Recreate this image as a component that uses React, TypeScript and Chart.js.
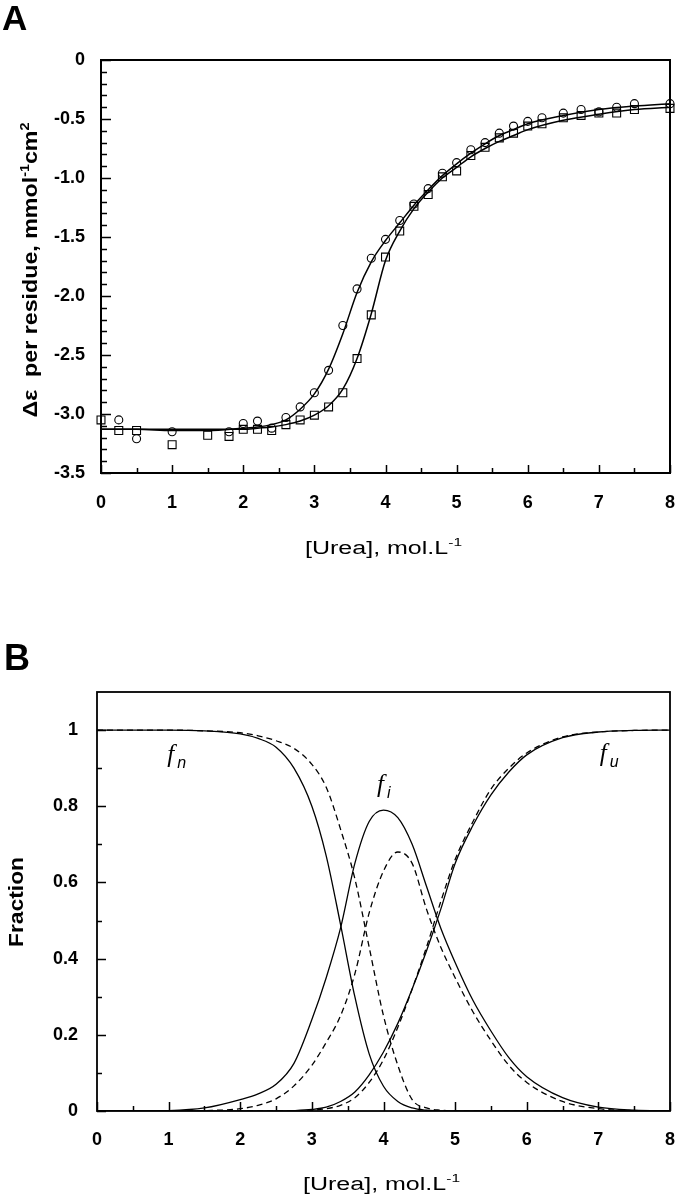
import React, { useEffect, useRef } from "react";
import { Chart, registerables } from "chart.js";

Chart.register(...registerables);

// ---------------- Panel A: CD signal vs urea ----------------
const circleUrea = [0.25, 0.5, 1.0, 1.8, 2.0, 2.2, 2.4, 2.6, 2.8, 3.0, 3.2, 3.4, 3.6, 3.8, 4.0, 4.2, 4.4, 4.6, 4.8, 5.0, 5.2, 5.4, 5.6, 5.8, 6.0, 6.2, 6.5, 6.75, 7.0, 7.25, 7.5, 8.0];
const circleDeltaEps = [-3.05, -3.21, -3.15, -3.15, -3.08, -3.06, -3.12, -3.03, -2.94, -2.82, -2.63, -2.25, -1.94, -1.68, -1.52, -1.36, -1.22, -1.09, -0.96, -0.87, -0.76, -0.70, -0.62, -0.56, -0.52, -0.49, -0.45, -0.42, -0.44, -0.40, -0.37, -0.37];

const squareUrea = [0, 0.25, 0.5, 1.0, 1.5, 1.8, 2.0, 2.2, 2.4, 2.6, 2.8, 3.0, 3.2, 3.4, 3.6, 3.8, 4.0, 4.2, 4.4, 4.6, 4.8, 5.0, 5.2, 5.4, 5.6, 5.8, 6.0, 6.2, 6.5, 6.75, 7.0, 7.25, 7.5, 8.0];
const squareDeltaEps = [-3.05, -3.14, -3.14, -3.26, -3.18, -3.19, -3.13, -3.13, -3.14, -3.09, -3.05, -3.01, -2.94, -2.82, -2.53, -2.16, -1.67, -1.45, -1.24, -1.14, -0.99, -0.94, -0.81, -0.74, -0.66, -0.62, -0.56, -0.54, -0.49, -0.47, -0.45, -0.45, -0.42, -0.41];

const fitUrea = [0, 0.5, 1, 1.5, 2, 2.2, 2.4, 2.6, 2.8, 3.0, 3.2, 3.4, 3.6, 3.8, 4.0, 4.2, 4.4, 4.6, 4.8, 5.0, 5.2, 5.4, 5.6, 5.8, 6.0, 6.5, 7.0, 7.5, 8.0];
const fitCircle = [-3.13, -3.13, -3.14, -3.14, -3.12, -3.11, -3.09, -3.05, -2.96, -2.83, -2.62, -2.32, -1.97, -1.71, -1.53, -1.38, -1.23, -1.10, -0.98, -0.88, -0.79, -0.71, -0.64, -0.59, -0.54, -0.47, -0.42, -0.39, -0.37];
const fitSquare = [-3.13, -3.13, -3.13, -3.13, -3.13, -3.12, -3.11, -3.09, -3.06, -3.01, -2.93, -2.79, -2.53, -2.15, -1.70, -1.45, -1.26, -1.12, -1.00, -0.91, -0.82, -0.75, -0.69, -0.64, -0.59, -0.51, -0.46, -0.42, -0.40];

// ---------------- Panel B: species fractions ----------------
const fracUrea = [0, 0.5, 1.0, 1.5, 2.0, 2.25, 2.5, 2.75, 3.0, 3.2, 3.4, 3.6, 3.8, 4.0, 4.2, 4.4, 4.6, 4.8, 5.0, 5.25, 5.5, 5.75, 6.0, 6.5, 7.0, 7.5, 8.0];
const fnSolid = [1, 1, 1, 0.998, 0.99, 0.978, 0.955, 0.90, 0.80, 0.67, 0.49, 0.30, 0.15, 0.065, 0.025, 0.008, 0.002, 0, 0, 0, 0, 0, 0, 0, 0, 0, 0];
const fnDashed = [1, 1, 1, 0.998, 0.993, 0.985, 0.972, 0.952, 0.91, 0.85, 0.74, 0.61, 0.43, 0.25, 0.12, 0.03, 0.008, 0.002, 0, 0, 0, 0, 0, 0, 0, 0, 0];
const fiSolid = [0, 0, 0.001, 0.008, 0.03, 0.045, 0.07, 0.125, 0.24, 0.35, 0.48, 0.65, 0.76, 0.79, 0.77, 0.70, 0.59, 0.48, 0.39, 0.29, 0.21, 0.14, 0.09, 0.035, 0.01, 0.002, 0];
const fiDashed = [0, 0, 0, 0.001, 0.006, 0.015, 0.032, 0.066, 0.12, 0.18, 0.25, 0.36, 0.52, 0.63, 0.68, 0.65, 0.53, 0.43, 0.35, 0.26, 0.185, 0.12, 0.075, 0.025, 0.006, 0.001, 0];
const fuSolid = [0, 0, 0, 0, 0, 0, 0, 0.001, 0.004, 0.01, 0.025, 0.05, 0.095, 0.155, 0.23, 0.32, 0.42, 0.53, 0.65, 0.75, 0.83, 0.89, 0.935, 0.98, 0.995, 0.999, 1.0];
const fuDashed = [0, 0, 0, 0, 0, 0, 0, 0, 0.002, 0.006, 0.015, 0.035, 0.075, 0.135, 0.22, 0.32, 0.43, 0.55, 0.66, 0.76, 0.845, 0.90, 0.94, 0.982, 0.995, 0.999, 1.0];

// ---------------- Axis ticks & text ----------------
const xMajorTicks = [0, 1, 2, 3, 4, 5, 6, 7, 8];
const xMinorTicks = [0.5, 1.5, 2.5, 3.5, 4.5, 5.5, 6.5, 7.5];
const yMajorTicksA = [0, -0.5, -1.0, -1.5, -2.0, -2.5, -3.0, -3.5];
const yMinorTicksA = [-0.1, -0.2, -0.3, -0.4, -0.6, -0.7, -0.8, -0.9, -1.1, -1.2, -1.3, -1.4, -1.6, -1.7, -1.8, -1.9, -2.1, -2.2, -2.3, -2.4, -2.6, -2.7, -2.8, -2.9, -3.1, -3.2, -3.3, -3.4];
const yMajorTicksB = [0, 0.2, 0.4, 0.6, 0.8, 1.0];
const yMinorTicksB = [0.1, 0.3, 0.5, 0.7, 0.9];

type Part = { t: string; sup?: boolean; sub?: boolean };
const xTitleParts: Part[] = [{ t: "[Urea], mol.L" }, { t: "-1", sup: true }];
const yTitleAParts: Part[] = [{ t: "\u0394\u03b5  per residue, mmol" }, { t: "-1", sup: true }, { t: "cm" }, { t: "2", sup: true }];
const yTitleBParts: Part[] = [{ t: "Fraction" }];
const speciesLabels = [
  { f: "f", sub: "n", x: 0.98, y: 0.916 },
  { f: "f", sub: "i", x: 3.91, y: 0.837 },
  { f: "f", sub: "u", x: 7.02, y: 0.918 },
];

const SANS = "'Liberation Sans', Arial, Helvetica, sans-serif";

function drawRich(
  ctx: CanvasRenderingContext2D,
  parts: Part[],
  o: { x: number; y: number; size: number; weight?: string; style?: string; family?: string; rotate?: boolean; width?: number; align?: "center" | "left" }
) {
  const fam = o.family || SANS;
  const small = o.size * 0.62;
  const fonts = parts.map((p) => `${o.style || "normal"} ${o.weight || "normal"} ${p.sup || p.sub ? small : o.size}px ${fam}`);
  const widths = parts.map((p, i) => {
    ctx.font = fonts[i];
    return ctx.measureText(p.t).width;
  });
  const total = widths.reduce((a, b) => a + b, 0);
  const sx = o.width ? o.width / total : 1;
  ctx.save();
  ctx.translate(o.x, o.y);
  if (o.rotate) ctx.rotate(-Math.PI / 2);
  ctx.scale(sx, 1);
  ctx.fillStyle = "#000";
  ctx.textBaseline = "alphabetic";
  ctx.textAlign = "left";
  let cx = o.align === "left" ? 0 : -total / 2;
  parts.forEach((p, i) => {
    ctx.font = fonts[i];
    const dy = p.sup ? -o.size * 0.42 : p.sub ? o.size * 0.3 : 0;
    ctx.fillText(p.t, cx, dy);
    cx += widths[i];
  });
  ctx.restore();
}

type DecorCfg = {
  frameWidth: number;
  yMajor: number[];
  yMinor: number[];
  yMajorLen: number;
  yMinorLen: number;
  xMajorLen: number;
  xMinorLen: number;
  draw: (chart: any) => void;
};

function makeDecor(cfg: DecorCfg) {
  return {
    id: "decor",
    afterDatasetsDraw(chart: any) {
      const { ctx, chartArea: ca, scales } = chart;
      ctx.save();
      ctx.strokeStyle = "#000";
      ctx.lineCap = "butt";
      ctx.lineWidth = 1.5;
      ctx.beginPath();
      xMajorTicks.forEach((v) => {
        const px = Math.round(scales.x.getPixelForValue(v)) + 0.5;
        ctx.moveTo(px, ca.bottom);
        ctx.lineTo(px, ca.bottom - cfg.xMajorLen);
      });
      xMinorTicks.forEach((v) => {
        const px = Math.round(scales.x.getPixelForValue(v)) + 0.5;
        ctx.moveTo(px, ca.bottom);
        ctx.lineTo(px, ca.bottom - cfg.xMinorLen);
      });
      cfg.yMajor.forEach((v) => {
        const py = Math.round(scales.y.getPixelForValue(v)) + 0.5;
        ctx.moveTo(ca.left, py);
        ctx.lineTo(ca.left + cfg.yMajorLen, py);
      });
      cfg.yMinor.forEach((v) => {
        const py = Math.round(scales.y.getPixelForValue(v)) + 0.5;
        ctx.moveTo(ca.left, py);
        ctx.lineTo(ca.left + cfg.yMinorLen, py);
      });
      ctx.stroke();
      ctx.lineWidth = cfg.frameWidth;
      ctx.strokeRect(ca.left, ca.top, ca.right - ca.left, ca.bottom - ca.top);
      ctx.restore();
      cfg.draw(chart);
    },
  };
}

const xy = (xs: number[], ys: number[]) => xs.map((x, i) => ({ x, y: ys[i] }));

const tickFont = { family: SANS, size: 18, weight: "bold" as const };

function baseScales(opts: {
  yMin: number;
  yMax: number;
  yStep: number;
  yPad: number;
  xPad: number;
  yWidth: number;
  xHeight: number;
  yFmt: (v: number) => string;
}) {
  return {
    x: {
      type: "linear" as const,
      min: 0,
      max: 8,
      grid: { display: false, drawTicks: false },
      border: { display: false },
      ticks: { stepSize: 1, padding: opts.xPad, color: "#000", font: tickFont, maxRotation: 0, autoSkip: false },
      afterFit: (s: any) => {
        s.height = opts.xHeight;
        s.paddingLeft = 0;
        s.paddingRight = 0;
      },
    },
    y: {
      type: "linear" as const,
      min: opts.yMin,
      max: opts.yMax,
      grid: { display: false, drawTicks: false },
      border: { display: false },
      ticks: {
        stepSize: opts.yStep,
        includeBounds: false,
        padding: opts.yPad,
        color: "#000",
        font: tickFont,
        callback: (v: any) => opts.yFmt(Number(v)),
      },
      afterFit: (s: any) => {
        s.width = opts.yWidth;
        s.paddingTop = 0;
        s.paddingBottom = 0;
      },
    },
  };
}

function PanelA() {
  const ref = useRef<HTMLCanvasElement | null>(null);
  useEffect(() => {
    if (!ref.current) return;
    const lineDs = (data: any, label: string) => ({
      label,
      data,
      showLine: true,
      pointRadius: 0,
      borderColor: "#000",
      borderWidth: 1.5,
      cubicInterpolationMode: "monotone" as const,
      fill: false,
    });
    const chart = new Chart(ref.current, {
      type: "scatter",
      data: {
        datasets: [
          lineDs(xy(fitUrea, fitCircle), "fit (circles)"),
          lineDs(xy(fitUrea, fitSquare), "fit (squares)"),
          {
            label: "circles",
            data: xy(circleUrea, circleDeltaEps),
            showLine: false,
            pointStyle: "circle",
            pointRadius: 4,
            borderWidth: 1.1,
            borderColor: "#000",
            backgroundColor: "rgba(255,255,255,0)",
            clip: false,
          } as any,
          {
            label: "squares",
            data: xy(squareUrea, squareDeltaEps),
            showLine: false,
            pointStyle: "rect",
            pointRadius: 5.6,
            borderWidth: 1.1,
            borderColor: "#000",
            backgroundColor: "rgba(255,255,255,0)",
            clip: false,
          } as any,
        ],
      },
      options: {
        animation: false,
        responsive: false,
        layout: { padding: { top: 60, right: 7, left: 0, bottom: 0 } },
        plugins: { legend: { display: false }, tooltip: { enabled: false } },
        scales: baseScales({
          yMin: -3.5,
          yMax: 0,
          yStep: 0.5,
          yPad: 16,
          xPad: 19,
          yWidth: 101,
          xHeight: 127,
          yFmt: (v) => (Math.abs(v) < 1e-9 ? "0" : v.toFixed(1)),
        }) as any,
      },
      plugins: [
        makeDecor({
          frameWidth: 2,
          yMajor: yMajorTicksA,
          yMinor: yMinorTicksA,
          yMajorLen: 10,
          yMinorLen: 6,
          xMajorLen: 8,
          xMinorLen: 5,
          draw: (c: any) => {
            const ctx = c.ctx as CanvasRenderingContext2D;
            drawRich(ctx, [{ t: "A" }], { x: 2, y: 30, size: 35, weight: "bold", align: "left" });
            drawRich(ctx, xTitleParts, { x: 383.5, y: 554, size: 18, width: 157 });
            drawRich(ctx, yTitleAParts, { x: 37, y: 270, size: 20, weight: "bold", rotate: true, width: 295 });
          },
        }),
      ],
    });
    return () => chart.destroy();
  }, []);
  return <canvas ref={ref} width={677} height={600} style={{ position: "absolute", left: 0, top: 0, display: "block" }} />;
}

function PanelB() {
  const ref = useRef<HTMLCanvasElement | null>(null);
  useEffect(() => {
    if (!ref.current) return;
    const curve = (ys: number[], label: string, dashed: boolean) => ({
      label,
      data: xy(fracUrea, ys),
      showLine: true,
      pointRadius: 0,
      borderColor: "#000",
      borderWidth: 1.3,
      borderDash: dashed ? [6, 4] : [],
      cubicInterpolationMode: "monotone" as const,
      fill: false,
    });
    const chart = new Chart(ref.current, {
      type: "scatter",
      data: {
        datasets: [
          curve(fnSolid, "fn", false),
          curve(fnDashed, "fn (dashed)", true),
          curve(fiSolid, "fi", false),
          curve(fiDashed, "fi (dashed)", true),
          curve(fuSolid, "fu", false),
          curve(fuDashed, "fu (dashed)", true),
        ],
      },
      options: {
        animation: false,
        responsive: false,
        layout: { padding: { top: 92, right: 7, left: 0, bottom: 0 } },
        plugins: { legend: { display: false }, tooltip: { enabled: false } },
        scales: baseScales({
          yMin: 0,
          yMax: 1.1,
          yStep: 0.2,
          yPad: 19,
          xPad: 18,
          yWidth: 97,
          xHeight: 88,
          yFmt: (v) => String(Math.round(v * 10) / 10),
        }) as any,
      },
      plugins: [
        makeDecor({
          frameWidth: 1.8,
          yMajor: yMajorTicksB,
          yMinor: yMinorTicksB,
          yMajorLen: 9,
          yMinorLen: 5,
          xMajorLen: 9,
          xMinorLen: 5,
          draw: (c: any) => {
            const ctx = c.ctx as CanvasRenderingContext2D;
            const sx = c.scales.x;
            const sy = c.scales.y;
            drawRich(ctx, [{ t: "B" }], { x: 4, y: 70, size: 36, weight: "bold", align: "left" });
            drawRich(ctx, xTitleParts, { x: 381.5, y: 590, size: 18, width: 157 });
            drawRich(ctx, yTitleBParts, { x: 23, y: 302, size: 21, weight: "bold", rotate: true, width: 90 });
            speciesLabels.forEach((l) => {
              const px = sx.getPixelForValue(l.x);
              const py = sy.getPixelForValue(l.y);
              ctx.save();
              ctx.fillStyle = "#000";
              ctx.textBaseline = "alphabetic";
              ctx.textAlign = "left";
              ctx.font = "italic 25px 'Liberation Serif', 'Times New Roman', serif";
              ctx.fillText(l.f, px, py);
              ctx.font = `italic 16px ${SANS}`;
              ctx.fillText(l.sub, px + 10, py + 6);
              ctx.restore();
            });
          },
        }),
      ],
    });
    return () => chart.destroy();
  }, []);
  return <canvas ref={ref} width={677} height={599} style={{ position: "absolute", left: 0, top: 600, display: "block" }} />;
}

export default function App() {
  return (
    <div style={{ position: "absolute", left: 0, top: 0, width: 677, height: 1199, background: "#fff", overflow: "hidden" }}>
      <PanelA />
      <PanelB />
    </div>
  );
}
